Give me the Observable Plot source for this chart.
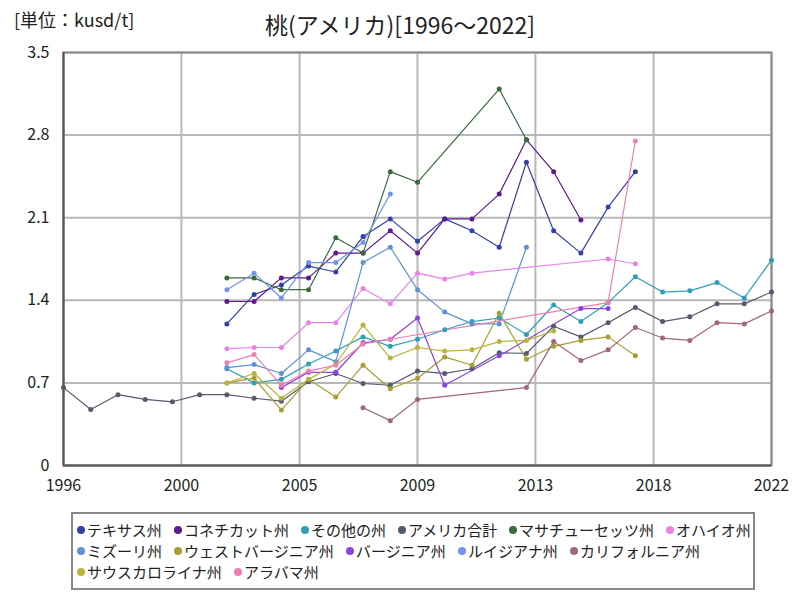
<!DOCTYPE html>
<html><head><meta charset="utf-8">
<script src="https://cdn.jsdelivr.net/npm/d3@7"></script>
<script src="https://cdn.jsdelivr.net/npm/@observablehq/plot@0.6"></script>
<style>
body{margin:0;background:#fff;font-family:"Noto Sans CJK JP","Noto Sans",sans-serif;color:#222;}
#wrap{position:relative;width:800px;height:600px;overflow:hidden;}
#chart{position:absolute;left:0;top:0;}
.cond{position:absolute;white-space:nowrap;transform-origin:0 50%;line-height:1;}
#title{position:absolute;left:0;width:800px;text-align:center;white-space:nowrap;line-height:1;}
#legend{position:absolute;left:71px;top:512px;width:680px;height:74px;border:2px solid #888;}
.item{position:absolute;height:16px;}
.dot{position:absolute;left:0;top:4px;width:8px;height:8px;border-radius:50%;}
.lab{position:absolute;left:10px;top:0;font-size:15px;line-height:16px;white-space:nowrap;transform-origin:0 50%;}
</style></head><body><div id="wrap"><div id="chart"></div></div>
<script>
const titleText = "桃(アメリカ)[1996～2022]";
const unitText = "[単位：kusd/t]";
const years = [1996,1997,1998,1999,2000,2001,2002,2003,2004,2005,2006,2007,2008,2009,2010,2011,2012,2013,2014,2015,2016,2017,2018,2019,2020,2021,2022];
const xTickValues = [1996, 2000.33, 2004.67, 2009, 2013.33, 2017.67, 2022];
const yTickValues = [0, 0.7, 1.4, 2.1, 2.8, 3.5];
const seriesNames = ["テキサス州","コネチカット州","その他の州","アメリカ合計","マサチューセッツ州","オハイオ州","ミズーリ州","ウェストバージニア州","バージニア州","ルイジアナ州","カリフォルニア州","サウスカロライナ州","アラバマ州"];
const seriesColors = ["#3442a8","#5c1a8e","#2f9fb8","#555a6e","#3b6b3b","#e884e8","#5f92d2","#a89e34","#8a44e0","#7392f0","#a06878","#bcb33a","#f07eb4"];
const legendRows = [6,5,2];
const _ = null;
//                 1996 97 98 99 2000 01 02 03 04 05 06 07 08 09 10 11 12 13 14 15 16 17 18 19 20 21 22
const texas       = [_,_,_,_,_,_,1.20,1.45,1.53,1.69,1.64,1.94,2.09,1.90,2.09,1.99,1.85,2.57,1.99,1.80,2.19,2.49,_,_,_,_,_];
const connecticut = [_,_,_,_,_,_,1.39,1.39,1.59,1.59,1.80,1.80,1.99,1.80,2.09,2.09,2.30,2.76,2.49,2.08,_,_,_,_,_,_,_];
const otherStates = [_,_,_,_,_,_,0.82,0.70,0.73,0.86,0.97,1.09,1.01,1.07,1.15,1.22,1.25,1.11,1.36,1.22,1.38,1.60,1.47,1.48,1.55,1.42,1.74];
const usTotal     = [0.66,0.475,0.60,0.56,0.54,0.60,0.60,0.57,0.545,0.71,0.78,0.695,0.68,0.80,0.78,0.82,0.955,0.95,1.18,1.09,1.21,1.34,1.22,1.26,1.37,1.37,1.47];
const massachusetts = [_,_,_,_,_,_,1.59,1.59,1.49,1.49,1.93,1.80,2.49,2.40,_,_,3.19,2.76,_,_,_,_,_,_,_,_,_];
const ohio        = [_,_,_,_,_,_,0.99,1.00,1.00,1.21,1.21,1.50,1.37,1.63,1.58,1.63,_,_,_,_,1.75,1.71,_,_,_,_,_];
const missouri    = [_,_,_,_,_,_,0.83,0.855,0.78,0.98,0.88,1.72,1.85,1.49,1.30,1.20,1.20,1.85,_,_,_,_,_,_,_,_,_];
const westVirginia = [_,_,_,_,_,_,0.70,0.74,0.47,0.73,0.58,0.85,0.65,0.74,0.92,0.85,1.29,0.90,1.01,1.06,1.09,0.93,_,_,_,_,_];
const virginia    = [_,_,_,_,_,_,_,_,0.66,0.79,0.79,1.04,1.07,1.25,0.68,_,0.93,_,_,1.33,1.33,_,_,_,_,_,_];
const louisiana   = [_,_,_,_,_,_,1.49,1.63,1.42,1.72,1.72,1.89,2.30,_,_,_,_,_,_,_,_,_,_,_,_,_,_];
const california  = [_,_,_,_,_,_,_,_,_,_,_,0.49,0.38,0.56,_,_,_,0.66,1.05,0.89,0.98,1.17,1.08,1.06,1.21,1.20,1.31];
const southCarolina = [_,_,_,_,_,_,0.70,0.78,0.57,0.73,0.86,1.19,0.91,1.00,0.97,0.98,1.05,1.06,1.14,_,_,_,_,_,_,_,_];
const alabama     = [_,_,_,_,_,_,0.87,0.94,0.68,0.80,0.85,1.03,1.07,_,_,_,_,_,_,_,1.38,2.75,_,_,_,_,_];
const seriesValues = [texas,connecticut,otherStates,usTotal,massachusetts,ohio,missouri,westVirginia,virginia,louisiana,california,southCarolina,alabama];

const data = [];
seriesNames.forEach((name, s) => {
  seriesValues[s].forEach((v, i) => { if (v != null) data.push({series: name, year: years[i], value: v}); });
});

const font = '"Noto Sans CJK JP","Noto Sans",sans-serif';
const chart = Plot.plot({
  width: 800, height: 500,
  marginTop: 52, marginLeft: 63, marginRight: 29, marginBottom: 35,
  style: {fontFamily: font, fontSize: "16px", color: "#222", background: "transparent"},
  x: {domain: [1996, 2022], ticks: xTickValues, tickFormat: d => String(Math.round(d)), tickSize: 0, tickPadding: 14, label: null},
  y: {domain: [0, 3.5], ticks: yTickValues, tickFormat: d => String(d), tickSize: 0, tickPadding: 14, label: null},
  color: {domain: seriesNames, range: seriesColors},
  marks: [
    Plot.ruleX(xTickValues, {stroke: "#b8b8b8", strokeWidth: 2}),
    Plot.ruleY(yTickValues, {stroke: "#b8b8b8", strokeWidth: 2}),
    Plot.frame({stroke: "#8a8a8a", strokeWidth: 2}),
    Plot.ruleX([1996], {stroke: "#555", strokeWidth: 2}),
    Plot.ruleY([0], {stroke: "#555", strokeWidth: 2}),
    Plot.line(data, {x: "year", y: "value", z: "series", stroke: "series", strokeWidth: 1.2}),
    Plot.dot(data, {x: "year", y: "value", fill: "series", r: 2.5})
  ]
});
document.getElementById("chart").appendChild(chart);

const wrap = document.getElementById("wrap");
const unit = document.createElement("div");
unit.className = "cond";
unit.textContent = unitText;
unit.style.left = "14px"; unit.style.top = "10px"; unit.style.fontSize = "18px";
wrap.appendChild(unit);
const title = document.createElement("div");
title.id = "title";
title.textContent = titleText;
title.style.top = "13px"; title.style.fontSize = "23px";
wrap.appendChild(title);

const legend = document.createElement("div");
legend.id = "legend";
wrap.appendChild(legend);
let idx = 0;
legendRows.forEach((count, r) => {
  let x = 4;
  for (let k = 0; k < count; k++, idx++) {
    const item = document.createElement("div");
    item.className = "item";
    item.style.left = x + "px";
    item.style.top = (8 + r * 21) + "px";
    const dot = document.createElement("div");
    dot.className = "dot";
    dot.style.background = seriesColors[idx];
    const lab = document.createElement("div");
    lab.className = "lab";
    lab.textContent = seriesNames[idx];
    item.appendChild(dot); item.appendChild(lab);
    legend.appendChild(item);
    x += 10 + lab.offsetWidth + 12;
  }
});
</script></body></html>
